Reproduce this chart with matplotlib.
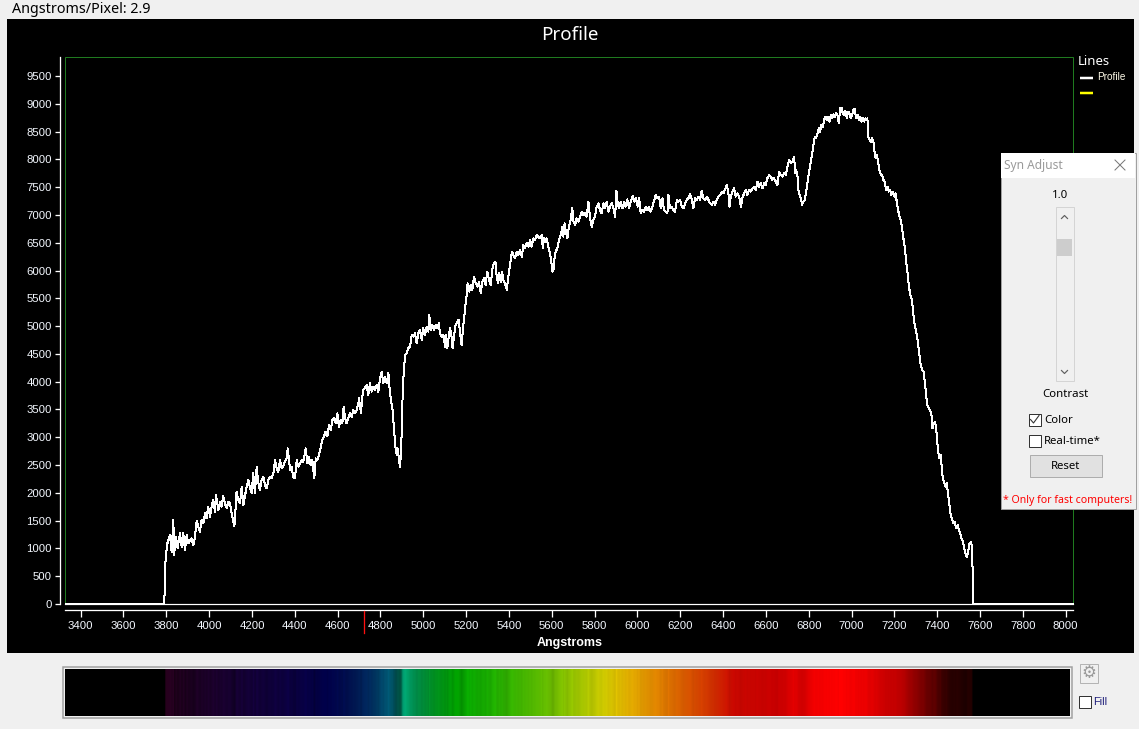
import numpy as np
import matplotlib
matplotlib.use("Agg")
import matplotlib.pyplot as plt
from matplotlib.patches import Rectangle
from matplotlib.colors import to_rgb
from matplotlib.transforms import blended_transform_factory

# ---------------- data ----------------
wl_a = [3330, 3790, 3792, 3797, 3805, 3817, 3825, 3833, 3836, 3845, 3853, 3864, 3872, 3879, 3887, 3895,
        3903, 3918, 3926, 3934, 3942, 3949, 3957, 3965, 3973, 3981, 3988, 3996, 4004, 4012, 4019, 4027,
        4032, 4043, 4051, 4058, 4066, 4074, 4082, 4090, 4097, 4108, 4118, 4124, 4128, 4136, 4144, 4152,
        4160, 4167, 4175, 4183, 4191, 4199, 4206, 4214, 4222, 4230, 4237, 4245, 4253, 4261, 4269, 4276,
        4284, 4292, 4300, 4308, 4315, 4323, 4331, 4339, 4346, 4354, 4362, 4367, 4373, 4378, 4385, 4393,
        4401, 4409, 4417, 4424, 4432, 4440, 4451, 4459, 4466, 4474, 4482, 4491, 4498, 4505, 4513, 4521,
        4529, 4536, 4544, 4552, 4560, 4568, 4575, 4583, 4591, 4599, 4606, 4614, 4622, 4628, 4634, 4642,
        4650, 4658, 4666, 4673, 4681, 4689, 4697, 4700, 4709, 4715, 4720]
fx_a = [0, 0, 190, 850, 1090, 1240, 940, 1520, 880, 1210, 1000, 1270, 1030, 1280, 970, 1240,
        1090, 1180, 1060, 1210, 1500, 1390, 1300, 1510, 1450, 1630, 1540, 1750, 1570, 1750, 1880, 1660,
        1960, 1690, 1840, 1750, 1940, 1810, 1720, 1840, 1810, 1570, 1400, 1750, 2020, 1870, 1810, 2110,
        1780, 1930, 2110, 2230, 2080, 2000, 2350, 1990, 2460, 2170, 2050, 2230, 2290, 2140, 2080, 2230,
        2290, 2260, 2350, 2590, 2440, 2380, 2590, 2440, 2480, 2560, 2620, 2800, 2590, 2410, 2470, 2290,
        2260, 2590, 2470, 2530, 2590, 2560, 2800, 2530, 2650, 2500, 2590, 2260, 2620, 2590, 2680, 2820,
        2950, 3010, 3100, 3020, 3220, 3130, 3310, 3340, 3250, 3430, 3190, 3310, 3250, 3550, 3370, 3250,
        3340, 3430, 3370, 3490, 3430, 3490, 3610, 3700, 3430, 3730, 3850]

wl_b = [4736, 4743, 4751, 4759, 4767, 4775, 4782, 4790, 4798, 4806, 4813, 4821, 4829, 4837, 4842, 4849,
        4856, 4860, 4865, 4870, 4876, 4880, 4885, 4891, 4896, 4899, 4902, 4905, 4910, 4915, 4922, 4930,
        4938, 4946, 4954, 4961, 4969, 4977, 4985, 4993, 5000, 5008, 5016, 5024, 5028, 5035, 5042, 5050,
        5058, 5066, 5072, 5078, 5086, 5094, 5102, 5106, 5112, 5119, 5125, 5131, 5137, 5144, 5151, 5159,
        5165, 5172, 5179, 5187, 5192, 5198, 5203, 5207, 5215, 5221, 5229, 5237, 5245, 5253, 5260, 5268,
        5276, 5284, 5291, 5299, 5307, 5315, 5323, 5330, 5337, 5343, 5349, 5355, 5362, 5368, 5374, 5382,
        5390, 5396, 5402, 5408, 5414, 5421, 5428, 5436, 5444, 5452, 5460, 5467, 5475, 5483, 5491, 5499,
        5506, 5514, 5522, 5530, 5537, 5545, 5553, 5558, 5564, 5570, 5576, 5584, 5592, 5598, 5603, 5608,
        5612, 5618, 5626, 5634, 5642, 5650, 5654, 5660, 5667, 5673, 5679]
fx_b = [3940, 3760, 3970, 3820, 3910, 3850, 3940, 3820, 4060, 4180, 3970, 4090, 3970, 4160, 3910, 3670,
        3520, 3310, 3070, 2830, 2680, 2800, 2650, 2470, 2710, 3070, 3550, 3970, 4210, 4480, 4510, 4600,
        4630, 4840, 4810, 4870, 4690, 4870, 4930, 4750, 4960, 4840, 4990, 4900, 5200, 4930, 5020, 4930,
        5020, 4960, 5050, 4870, 4810, 4840, 4630, 4840, 4600, 4810, 4960, 4840, 4600, 4840, 5020, 5080,
        5110, 4870, 4660, 5020, 5200, 5410, 5560, 5770, 5620, 5740, 5650, 5890, 5770, 5710, 5800, 5600,
        5800, 5860, 5740, 5980, 5830, 5740, 6040, 6130, 6160, 5890, 5770, 5950, 5800, 5980, 5830, 5770,
        5650, 5860, 6010, 6190, 6340, 6280, 6220, 6340, 6280, 6370, 6250, 6460, 6400, 6490, 6430, 6550,
        6430, 6580, 6550, 6640, 6610, 6580, 6640, 6400, 6580, 6520, 6580, 6430, 6310, 6160, 5980, 6010,
        6190, 6340, 6400, 6550, 6640, 6790, 6610, 6850, 6670, 6580, 6760]

wl_c = [5688, 5696, 5701, 5709, 5716, 5724, 5732, 5740, 5748, 5755, 5763, 5771, 5779, 5787, 5794, 5802,
        5810, 5818, 5825, 5833, 5841, 5849, 5857, 5864, 5872, 5880, 5888, 5896, 5902, 5908, 5914, 5922,
        5930, 5938, 5945, 5953, 5961, 5969, 5978, 5986, 5994, 6001, 6008, 6015, 6023, 6031, 6039, 6047,
        6054, 6062, 6070, 6079, 6085, 6093, 6101, 6109, 6117, 6124, 6132, 6140, 6145, 6152, 6160, 6168,
        6176, 6184, 6191, 6199, 6207, 6215, 6223, 6230, 6238, 6246, 6254, 6261, 6269, 6277, 6285, 6293,
        6300, 6308, 6316, 6324, 6332, 6339, 6347, 6355, 6363, 6370, 6378, 6386, 6394, 6402, 6409, 6417,
        6425, 6430, 6436, 6444, 6451, 6459, 6467, 6475, 6483, 6490, 6498, 6506, 6514, 6521, 6529, 6537,
        6545, 6553, 6560, 6568, 6576, 6584, 6592, 6599, 6607, 6615, 6623, 6630, 6638, 6646, 6654, 6662,
        6669, 6677, 6685, 6693, 6701, 6708, 6716, 6724, 6732]
fx_c = [6910, 7120, 6880, 6820, 6940, 6880, 6970, 7060, 7000, 7030, 6970, 7240, 6940, 6790, 6910, 6970,
        7150, 7210, 7090, 7030, 7210, 7120, 7240, 7060, 7150, 7210, 7120, 6970, 7440, 7210, 7120, 7240,
        7120, 7240, 7150, 7280, 7120, 7240, 7340, 7240, 7300, 7150, 7300, 7030, 7090, 7060, 7150, 7090,
        7150, 7060, 7150, 7270, 7360, 7300, 7330, 7120, 7300, 7090, 7060, 7030, 7360, 7120, 7150, 7090,
        7060, 7270, 7240, 7270, 7150, 7120, 7210, 7270, 7300, 7380, 7270, 7120, 7300, 7270, 7330, 7270,
        7440, 7300, 7270, 7330, 7270, 7210, 7180, 7240, 7180, 7270, 7330, 7360, 7420, 7390, 7460, 7540,
        7390, 7150, 7330, 7420, 7480, 7330, 7390, 7330, 7150, 7300, 7390, 7450, 7360, 7450, 7420, 7480,
        7510, 7450, 7600, 7510, 7570, 7480, 7570, 7540, 7660, 7720, 7690, 7630, 7660, 7600, 7540, 7780,
        7720, 7690, 7750, 7720, 7870, 7990, 7930, 7960, 8050]

wl_d = [6736, 6741, 6747, 6752, 6757, 6763, 6769, 6775, 6782, 6788, 6794, 6800, 6806, 6814, 6822, 6828,
        6834, 6841, 6847, 6853, 6859, 6866, 6872, 6878, 6884, 6890, 6897, 6903, 6909, 6915, 6922, 6928,
        6934, 6940, 6947, 6953, 6959, 6965, 6971, 6978, 6984, 6990, 6996, 7003, 7009, 7015, 7021, 7028,
        7034, 7040, 7046, 7052, 7059, 7065, 7071, 7074, 7077, 7084, 7090, 7096, 7102, 7107, 7112, 7118,
        7124, 7130, 7137, 7143, 7149, 7155, 7161, 7168, 7174, 7180, 7186, 7193, 7199, 7205, 7211, 7217,
        7224, 7230, 7236, 7242, 7249, 7255, 7261, 7267, 7274, 7280, 7286, 7292, 7298, 7305, 7311, 7317,
        7323, 7330, 7336, 7342, 7348, 7354, 7361, 7367, 7373, 7378, 7383, 7389, 7395, 7400, 7404, 7411,
        7417, 7421, 7426, 7432, 7439, 7445, 7451, 7457, 7463, 7470, 7476, 7482, 7488, 7495, 7501, 7507,
        7513, 7520, 7526, 7532, 7538, 7544, 7551, 7557, 7563, 7566, 7569, 8034]
fx_d = [7750, 7810, 7720, 7450, 7360, 7300, 7180, 7240, 7270, 7420, 7570, 7750, 7870, 8050, 8260, 8410,
        8380, 8470, 8560, 8500, 8620, 8590, 8710, 8770, 8710, 8770, 8680, 8800, 8740, 8810, 8770, 8830,
        8800, 8650, 8920, 8930, 8830, 8800, 8870, 8740, 8860, 8830, 8740, 8800, 8890, 8910, 8740, 8800,
        8710, 8770, 8680, 8750, 8680, 8740, 8710, 8740, 8410, 8350, 8320, 8380, 8320, 8140, 8020, 8080,
        7960, 7810, 7720, 7720, 7630, 7600, 7450, 7510, 7420, 7450, 7360, 7420, 7330, 7390, 7240, 7090,
        6970, 6910, 6760, 6580, 6400, 6160, 5980, 5740, 5560, 5500, 5320, 5080, 4960, 4840, 4660, 4480,
        4300, 4210, 4180, 4000, 3760, 3580, 3520, 3490, 3400, 3160, 3250, 3280, 3160, 2920, 2740, 2620,
        2680, 2440, 2260, 2200, 2110, 2170, 1960, 1780, 1600, 1510, 1450, 1480, 1360, 1420, 1330, 1270,
        1180, 1120, 1000, 910, 850, 940, 1090, 1120, 1030, 400, 0, 0]

x_ticks = list(range(3400, 8001, 200))
y_ticks = list(range(0, 9501, 500))
marker_wl = 4725

# colour of the synthetic spectrum strip (wavelength -> colour)
strip_wl = [3795, 4000, 4200, 4400, 4550, 4650, 4750, 4820, 4860, 4900, 4950, 5050, 5150, 5300,
            5450, 5600, 5750, 5850, 5950, 6050, 6200, 6350, 6450, 6650, 6850, 6950, 7100, 7250,
            7350, 7450, 7565]
strip_col = ['#1e0016', '#1a0028', '#120036', '#0a0040', '#000048', '#00104e', '#002a5c', '#004a68',
             '#005060', '#00906a', '#008a50', '#008c20', '#00a000', '#18aa00', '#40b400', '#6cbc00',
             '#a8c400', '#d0c800', '#e0b000', '#e09000', '#d86000', '#d03000', '#c80800', '#c80000',
             '#f00000', '#ff0000', '#e00000', '#b00000', '#700000', '#300000', '#180000']

wavelength = np.array(wl_a + wl_b + wl_c + wl_d, dtype=float)
flux = np.array(fx_a + fx_b + fx_c + fx_d, dtype=float)

# ---------------- figure ----------------
W, H = 1139, 729
fig = plt.figure(figsize=(W / 100, H / 100), dpi=100)
fig.patch.set_facecolor('#f0f0f0')
PX = 0.72  # points per pixel


def px_axes(x0, y0, x1, y1, **kw):
    return fig.add_axes([x0 / W, 1 - y1 / H, (x1 - x0) / W, (y1 - y0) / H], **kw)


UI = ['Noto Sans', 'DejaVu Sans']
TK = ['Liberation Sans', 'DejaVu Sans']

under = fig.add_axes([0, 0, 1, 1], zorder=0)
under.set_xlim(0, W)
under.set_ylim(H, 0)
under.axis('off')
under.add_patch(Rectangle((7, 19), 1127, 634, facecolor='black', edgecolor='none'))
under.text(12, 9, 'Angstroms/Pixel: 2.9', fontsize=10.3, family=UI, ha='left', va='center', color='black')
under.text(570, 35, 'Profile', fontsize=13.5, family=UI, ha='center', va='center', color='white')
under.text(570, 643, 'Angstroms', fontsize=9, family=TK, fontweight='bold', ha='center', va='center',
           color='white')

# ---------------- main plot ----------------
ax = px_axes(65, 57, 1073, 604, zorder=1)
ax.set_facecolor('black')
ax.add_patch(Rectangle((0, 0), 1, 1, transform=ax.transAxes, fill=False, edgecolor='#1f7a1f',
                       lw=1.0 * PX, clip_on=False, zorder=0))
ax.axhline(0, color='white', lw=1.2 * PX, clip_on=False, zorder=1)
ax.plot(wavelength, flux, color='white', lw=1.0 * PX, clip_on=False, zorder=2, antialiased=False)
ax.set_xlim(3327, 8034)
ax.set_ylim(0, 9842)
ax.set_xticks(x_ticks)
ax.set_yticks(y_ticks)
for s in ['top', 'right']:
    ax.spines[s].set_visible(False)
ax.spines['left'].set_position(('outward', 5 * PX))
ax.spines['bottom'].set_position(('outward', 6 * PX))
for s in ['left', 'bottom']:
    ax.spines[s].set_color('white')
    ax.spines[s].set_linewidth(1.3 * PX)
ax.tick_params(axis='y', colors='white', length=5 * PX, width=1.3 * PX, pad=2.2, labelsize=8.2)
ax.tick_params(axis='x', colors='white', length=7 * PX, width=1.3 * PX, pad=3.2, labelsize=8.2)
for lab in ax.get_xticklabels() + ax.get_yticklabels():
    lab.set_family(TK)
    lab.set_color('#f4f8ff')

trans = blended_transform_factory(ax.transData, ax.transAxes)
ax.plot([marker_wl, marker_wl], [-0.013, -0.053], transform=trans, color='#ff1010', lw=1.3 * PX,
        clip_on=False, zorder=3)

# ---------------- spectrum strip ----------------
s_lo, s_hi = 3327, 8020
sax = px_axes(65, 669, 1070, 716, zorder=1)
grid = np.linspace(s_lo, s_hi, 1005)
p = np.interp(grid, wavelength, flux)
k = 21
mean = np.convolve(np.pad(p, k // 2, mode='edge'), np.ones(k) / k, mode='valid')
mod = np.where(mean > 0, p / np.maximum(mean, 1.0), 0.0)
mod = np.clip(mod, 0, 1.25) ** 1.3
cols = np.array([to_rgb(c) for c in strip_col])
base = np.stack([np.interp(grid, strip_wl, cols[:, i]) for i in range(3)], axis=1)
img = np.clip(base * mod[:, None], 0, 1) * (p > 150)[:, None]
sax.imshow(np.repeat(img[None, :, :], 2, axis=0), aspect='auto', extent=[s_lo, s_hi, 0, 1],
           interpolation='nearest')
sax.set_xlim(s_lo, s_hi)
sax.set_ylim(0, 1)
sax.axis('off')

# ---------------- overlays: legend, dialog, widgets ----------------
top = fig.add_axes([0, 0, 1, 1], zorder=3)
top.set_xlim(0, W)
top.set_ylim(H, 0)
top.axis('off')
top.patch.set_alpha(0)

# legend
top.text(1078, 61, 'Lines', fontsize=9.5, family=UI, color='white', ha='left', va='center')
top.plot([1080, 1093], [77.5, 77.5], color='white', lw=2.5 * PX, solid_capstyle='butt')
top.text(1097, 77, 'Profile', fontsize=7.2, family=TK, color='#fffbe8', ha='left', va='center')
top.plot([1080, 1093], [92.5, 92.5], color='#ffff00', lw=2.5 * PX, solid_capstyle='butt')

# strip frame
top.add_patch(Rectangle((63, 667), 1009, 51, fill=False, edgecolor='#a0a0a0', lw=1.5 * PX))

# dialog
top.add_patch(Rectangle((1000.5, 152.5), 135, 356, facecolor='#f0f0f0', edgecolor='#a0a0a0', lw=PX))
top.add_patch(Rectangle((1001, 153), 134, 25, facecolor='white', edgecolor='none'))
top.text(1004, 165, 'Syn Adjust', fontsize=8.6, family=UI, color='#9a9a9a', ha='left', va='center')
top.plot([1115, 1125], [160, 170], color='#777777', lw=PX)
top.plot([1115, 1125], [170, 160], color='#777777', lw=PX)
top.text(1060, 195, '1.0', fontsize=8.2, family=UI, color='black', ha='center', va='center')
top.add_patch(Rectangle((1055.5, 206.5), 18, 174, facecolor='#f0f0f0', edgecolor='#d4d4d4', lw=PX))
top.add_patch(Rectangle((1057, 239), 15, 17, facecolor='#cdcdcd', edgecolor='none'))
top.plot([1061.5, 1064.5, 1067.5], [218.5, 215.5, 218.5], color='#606060', lw=1.2 * PX)
top.plot([1061.5, 1064.5, 1067.5], [370.5, 373.5, 370.5], color='#606060', lw=1.2 * PX)
top.text(1065, 394, 'Contrast', fontsize=8.2, family=UI, color='black', ha='center', va='center')
top.add_patch(Rectangle((1028.5, 413.5), 12, 12, facecolor='white', edgecolor='#333333', lw=PX))
top.plot([1030.5, 1033.5, 1039], [419.5, 423, 415.5], color='#333333', lw=1.1 * PX)
top.text(1044, 420, 'Color', fontsize=8.2, family=UI, color='black', ha='left', va='center')
top.add_patch(Rectangle((1028.5, 434.5), 12, 12, facecolor='white', edgecolor='#333333', lw=PX))
top.text(1044, 441, 'Real-time*', fontsize=8.2, family=UI, color='black', ha='left', va='center')
top.add_patch(Rectangle((1029.5, 454.5), 72, 22, facecolor='#e1e1e1', edgecolor='#adadad', lw=PX))
top.text(1065.5, 466, 'Reset', fontsize=8.2, family=UI, color='black', ha='center', va='center')
top.text(1068, 500, '* Only for fast computers!', fontsize=7.6, family=UI, color='#ff0000',
         ha='center', va='center')

# gear button and Fill checkbox
top.add_patch(Rectangle((1079.5, 663.5), 18, 19, facecolor='#f0f0f0', edgecolor='#b4b4b4', lw=PX))
top.text(1088.5, 673.5, '\u2699', fontsize=12, family=['DejaVu Sans'], color='#9a9a9a',
         ha='center', va='center')
top.add_patch(Rectangle((1078.5, 695.5), 12, 12, facecolor='white', edgecolor='#333333', lw=PX))
top.text(1093, 702, 'Fill', fontsize=7.8, family=TK, color='#1e1e7a', ha='left', va='center')

fig.savefig('out.png', dpi=100, facecolor=fig.get_facecolor())
